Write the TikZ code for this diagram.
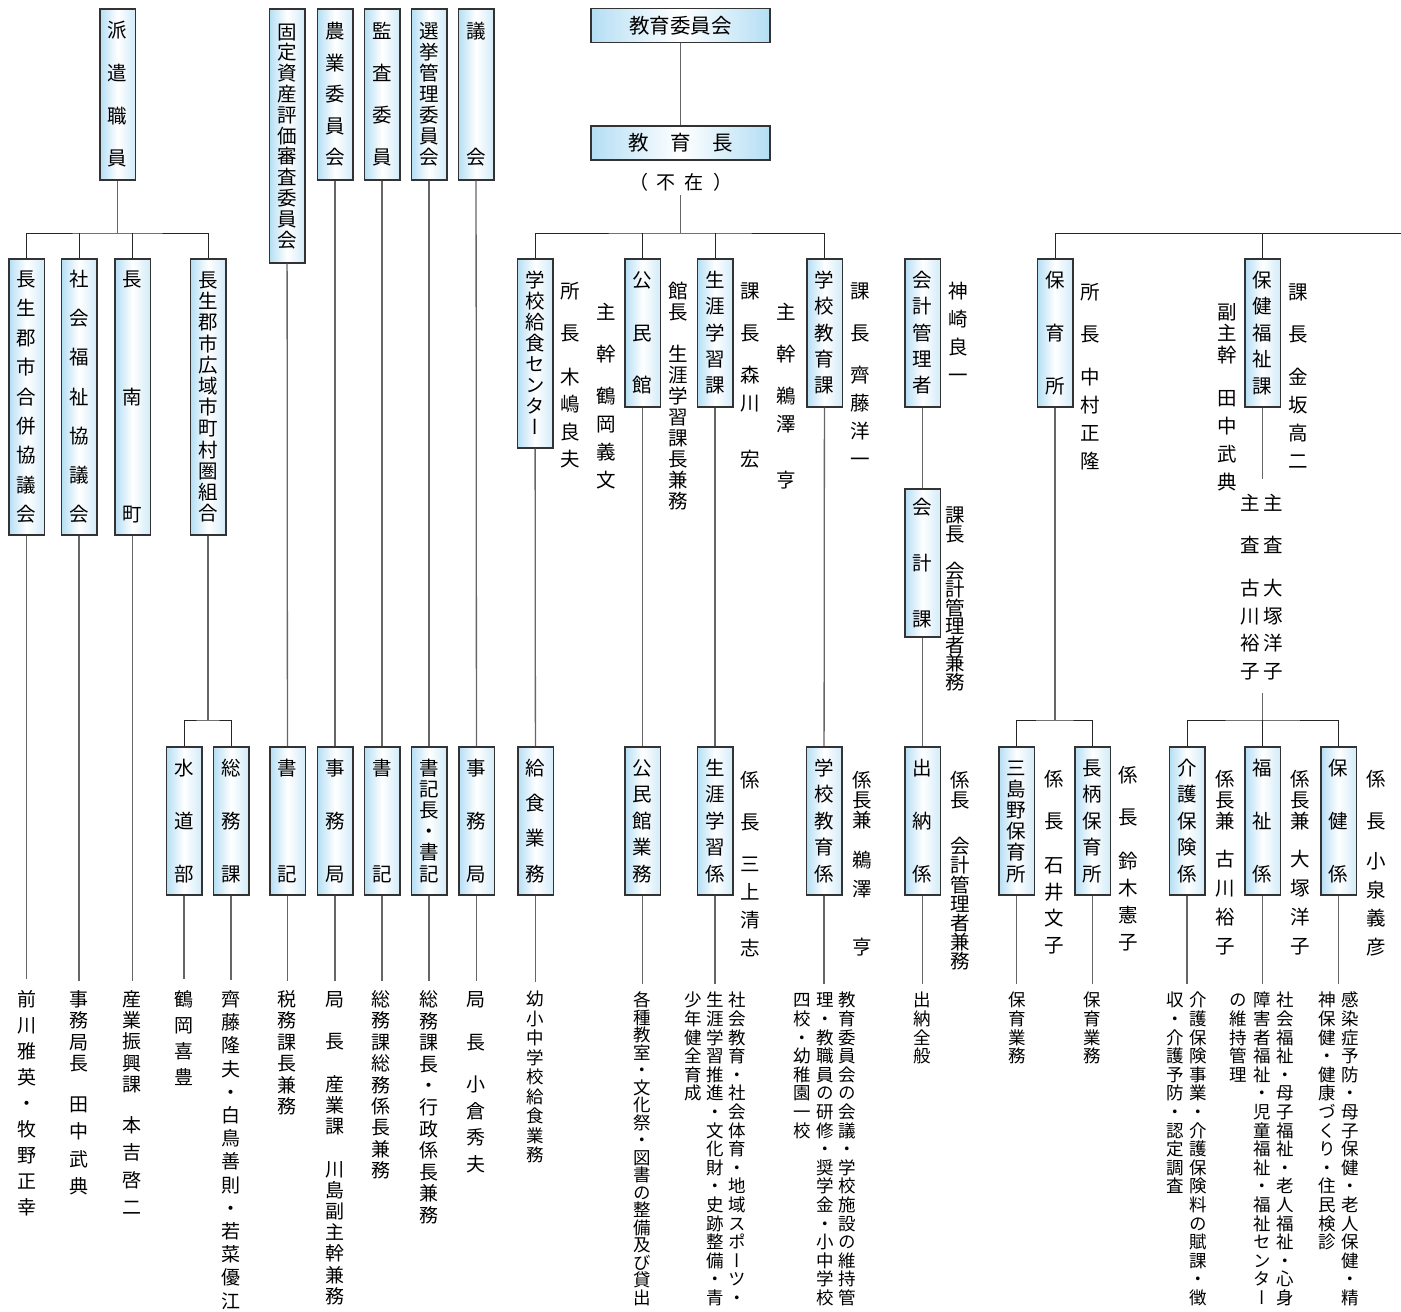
\documentclass[tikz,border=0pt]{standalone}
\usepackage{fontspec}
\newfontfamily\cjk[RawFeature=+vert]{Noto Sans CJK JP}
\newfontfamily\cjkh{Noto Sans CJK JP}
\definecolor{boxblue}{RGB}{180,222,244}
\def\figboxwidth{35.5pt}
\def\figboxfont{\cjk\fontsize{19.5pt}{19.5pt}\selectfont}
\def\figinfofont{\cjk\fontsize{19.5pt}{19.5pt}\selectfont}
\def\figdutyfont{\cjk\fontsize{19pt}{19pt}\selectfont}
\def\figdutysmallfont{\cjk\fontsize{17.5pt}{17.5pt}\selectfont}
% vertical text: one character per slot of the given pitch
\newdimen\vtpitch
\newbox\vtbox
\def\vtend{vtend}
\def\vtafterfi#1#2\fi{\fi#1}
\def\vtloop#1{\ifx#1\vtend\else\vtafterfi{\vtstep#1}\fi}
\def\vtstep#1{\ifcat\noexpand#1\relax\vtafterfi{#1}\else\vtafterfi{\vtchar{#1}\vtloop}\fi}
\def\vtchar#1{\hbox to 1em{\hss\vrule height\dimexpr\vtpitch/2+.38em\relax depth\dimexpr\vtpitch/2-.38em\relax width 0pt\relax#1\hss}}
\def\vtp#1{\vtpitch=#1pt\relax\vtloop}
\def\vtk#1{\kern#1pt\relax\vtloop}
\newcommand\vt[2]{\setbox\vtbox=\vbox{\offinterlineskip\vtpitch=#1pt\relax\vtloop#2\vtend}\lower\dimexpr(\ht\vtbox-\dp\vtbox)/2\relax\box\vtbox}
\newcommand\bt[2]{\smash{\vt{#1}{#2}}}

\begin{document}
\begin{tikzpicture}[
  x=1pt,y=-1pt,
  box/.style={draw=black!80,line width=1.5pt,left color=boxblue,right color=boxblue!60,middle color=white,minimum width=\figboxwidth,inner sep=0pt,anchor=north,font=\figboxfont},
  wbox/.style={draw=black!80,line width=1.5pt,left color=boxblue,right color=boxblue,middle color=white,minimum width=179pt,minimum height=34pt,inner sep=0pt,font=\cjkh\fontsize{20.5pt}{20.5pt}\selectfont},
  info/.style={inner sep=0pt,anchor=north,font=\figinfofont},
  duty/.style={inner sep=0pt,anchor=north,font=\figdutyfont},
  duty2/.style={inner sep=0pt,anchor=north,font=\figdutysmallfont},
  link/.style={draw=black!85,line width=1pt},
  stem/.style={draw=black!60,line width=1.3pt},
]
\useasboundingbox (0,0) rectangle (1401,1312);

%%%%%%%%%%%%%%%
% Left Part
%%%%%%%%%%%%%%%
\node (hak) [box,minimum height=171pt] at (117.5,8) {\bt{42.7}{派遣職員}};
\node (l1) [box,minimum height=276pt] at (26.5,258) {\bt{29.4}{長生郡市合併協議会}};
\node (l2) [box,minimum height=276pt] at (79,258) {\bt{39.2}{社会福祉協議会}};
\node (l3) [box,minimum height=276pt] at (132.5,258) {\bt{39.2}{長　　南　　町}};
\node (l4) [box,minimum height=276pt] at (208,258) {\bt{21.2}{長生郡市広域市町村圏組合}};
\node (b1) [box,minimum height=148pt] at (184,746) {\bt{53}{水道部}};
\node (b2) [box,minimum height=148pt] at (231,746) {\bt{53}{総務課}};

% Left Bottom
\node (d1) [duty] at (26.5,986) {\vt{26}{前川雅英・牧野正幸}};
\node (d2) [duty] at (79,988.4) {\vt{21.3}{事務局長\vtk{16.8}\vtp{27.3}田中武典}};
\node (d3) [duty] at (132,988.4) {\vt{21.25}{産業振興課\vtk{16.75}\vtp{27.3}本吉啓二}};
\node (d4) [duty] at (184,986) {\vt{26}{鶴岡喜豊}};
\node (d5) [duty] at (231,987.4) {\vt{23.2}{齊藤隆夫・白鳥善則・若菜優江}};

%%%%%%%%%%%%%%%
% Committees
%%%%%%%%%%%%%%%
\node (k1) [box,minimum height=254pt] at (287,8) {\bt{20.8}{固定資産評価審査委員会}};
\node (k2) [box,minimum height=171pt] at (335,8) {\bt{31.5}{農業委員会}};
\node (k3) [box,minimum height=171pt] at (382,8) {\bt{42}{監査委員}};
\node (k4) [box,minimum height=171pt] at (429,8) {\bt{21}{選挙管理委員会}};
\node (k5) [box,minimum height=171pt] at (476,8) {\bt{42}{議　　会}};
\node (b3) [box,minimum height=148pt] at (287.5,746) {\bt{53}{書　記}};
\node (b4) [box,minimum height=148pt] at (335,746) {\bt{53}{事務局}};
\node (b5) [box,minimum height=148pt] at (382,746) {\bt{53}{書　記}};
\node (b6) [box,minimum height=148pt] at (429,746) {\bt{21.2}{書記長・書記}};
\node (b7) [box,minimum height=148pt] at (476.5,746) {\bt{53}{事務局}};
\node (d6) [duty] at (287,988.3) {\vt{21.4}{税務課長兼務}};
\node (d7) [duty] at (335,988.4) {\vt{21.2}{局　長　産業課　川島副主幹兼務}};
\node (d8) [duty] at (381,988.3) {\vt{21.4}{総務課総務係長兼務}};
\node (d9) [duty] at (429,988.2) {\vt{21.6}{総務課長・行政係長兼務}};
\node (d10) [duty] at (476,988.4) {\vt{21.3}{局　長\vtk{18.4}\vtp{26.7}小倉秀夫}};

%%%%%%%%%%%%%%%
% Board of Education
%%%%%%%%%%%%%%%
\node (e0) [wbox] at (680.5,25.5) {教育委員会};
\node (e1) [wbox] at (680.5,143) {教\hspace{21.5pt}育\hspace{21.5pt}長};
\node (e1n) [inner sep=0pt,font=\cjkh\fontsize{19pt}{19pt}\selectfont] at (680.5,182) {（\hspace{9pt}不\hspace{9pt}在\hspace{9pt}）};

\node (s1) [box,minimum height=189pt] at (535,258) {\bt{21}{学校給食センター}};
\node (s2) [box,minimum height=148pt] at (642.5,258) {\bt{52.5}{公民館}};
\node (s3) [box,minimum height=148pt] at (715,258) {\bt{26.2}{生涯学習課}};
\node (s4) [box,minimum height=148pt] at (824.5,258) {\bt{26.2}{学校教育課}};
\node (i1) [info] at (570,270) {\vt{42}{所長\vtk{9.4}\vtp{27.3}木嶋良夫}};
\node (i2) [info] at (606,291) {\vt{42}{主幹\vtk{7}\vtp{28}鶴岡義文}};
\node (i3) [info] at (678,280.5) {\vt{21}{館長　生涯学習課長兼務}};
\node (i4) [info] at (750,270) {\vt{42}{課長\vtk{7}\vtp{28}森川　宏}};
\node (i5) [info] at (786,291) {\vt{42}{主幹\vtk{7}\vtp{28}鵜澤　亨}};
\node (i6) [info] at (860,270) {\vt{42}{課長\vtk{7}\vtp{28}齊藤洋一}};

\node (b8) [box,minimum height=148pt] at (535.5,746) {\bt{35.3}{給食業務}};
\node (b9) [box,minimum height=148pt] at (642.5,746) {\bt{26.5}{公民館業務}};
\node (b10) [box,minimum height=148pt] at (715,746) {\bt{26.5}{生涯学習係}};
\node (b11) [box,minimum height=148pt] at (824,746) {\bt{26.5}{学校教育係}};
\node (i14) [info] at (750,759) {\vt{42}{係長\vtk{7}\vtp{28}三上清志}};
\node (i15) [info] at (862,770) {\vt{20}{係長兼\vtk{15.5}\vtp{29}鵜澤　亨}};

\node (d11) [duty2] at (535,989) {\vt{19.5}{幼小中学校給食業務}};
\node (d12) [duty2] at (642,991) {\vt{17.5}{各種教室・文化祭・図書の整備及び貸出}};
\node (d13a) [duty2] at (737,990.7) {\vt{18.6}{社会教育・社会体育・地域スポーツ・}};
\node (d13b) [duty2] at (715,990.7) {\vt{18.6}{生涯学習推進・文化財・史跡整備・青}};
\node (d13c) [duty2] at (693,990.7) {\vt{18.6}{少年健全育成}};
\node (d14a) [duty2] at (847,990.7) {\vt{18.6}{教育委員会の会議・学校施設の維持管}};
\node (d14b) [duty2] at (825,990.7) {\vt{18.6}{理・教職員の研修・奨学金・小中学校}};
\node (d14c) [duty2] at (802,990.7) {\vt{18.6}{四校・幼稚園一校}};

%%%%%%%%%%%%%%%
% Accounting
%%%%%%%%%%%%%%%
\node (a1) [box,minimum height=148pt] at (922.5,258) {\bt{26.2}{会計管理者}};
\node (a2) [box,minimum height=148pt] at (922.5,488) {\bt{56}{会計課}};
\node (b12) [box,minimum height=148pt] at (922.5,746) {\bt{53}{出納係}};
\node (i7) [info] at (958,277) {\vt{28}{神崎良一}};
\node (i8) [info] at (955,505.75) {\vt{18.5}{課長　会計管理者兼務}};
\node (i16) [info] at (960,770) {\vt{20}{係長\vtk{26.4}\vtp{19.2}会計管理者兼務}};
\node (d15) [duty2] at (922,990.7) {\vt{18.6}{出納全般}};

%%%%%%%%%%%%%%%
% Right Part
%%%%%%%%%%%%%%%
\node (h1) [box,minimum height=148pt] at (1055,258) {\bt{53}{保育所}};
\node (w1) [box,minimum height=148pt] at (1262.5,258) {\bt{26.5}{保健福祉課}};
\node (i9) [info] at (1090,271) {\vt{42}{所長\vtk{8}\vtp{28}中村正隆}};
\node (i10) [info] at (1298,271) {\vt{42}{課長\vtk{8}\vtp{28}金坂高二}};
\node (i11) [info] at (1227,301) {\vt{21.5}{副主幹\vtk{18.5}\vtp{28}田中武典}};
\node (i12) [info] at (1273,482) {\vt{42}{主査\vtk{8.25}\vtp{27.5}大塚洋子}};
\node (i13) [info] at (1250,482) {\vt{42}{主査\vtk{8.25}\vtp{27.5}古川裕子}};

\node (b13) [box,minimum height=148pt] at (1016.5,746) {\bt{21.2}{三島野保育所}};
\node (b14) [box,minimum height=148pt] at (1092.5,746) {\bt{26.5}{長柄保育所}};
\node (b15) [box,minimum height=148pt] at (1187,746) {\bt{26.5}{介護保険係}};
\node (b16) [box,minimum height=148pt] at (1262.5,746) {\bt{53}{福祉係}};
\node (b17) [box,minimum height=148pt] at (1338.5,746) {\bt{53}{保健係}};
\node (i17) [info] at (1054,758) {\vt{42}{係長\vtk{9.75}\vtp{26.5}石井文子}};
\node (i18) [info] at (1128,754) {\vt{42}{係長\vtk{9.5}\vtp{27}鈴木憲子}};
\node (i19) [info] at (1225,768.5) {\vt{21}{係長兼\vtk{13}\vtp{29}古川裕子}};
\node (i20) [info] at (1300,768.5) {\vt{21}{係長兼\vtk{13}\vtp{29}大塚洋子}};
\node (i21) [info] at (1376,758) {\vt{42}{係長\vtk{4.75}\vtp{28.5}小泉義彦}};

\node (d16) [duty2] at (1017,990.7) {\vt{18.6}{保育業務}};
\node (d17) [duty2] at (1092,990.7) {\vt{18.6}{保育業務}};
\node (d18a) [duty2] at (1198,990.7) {\vt{18.6}{介護保険事業・介護保険料の賦課・徴}};
\node (d18b) [duty2] at (1175,990.7) {\vt{18.6}{収・介護予防・認定調査}};
\node (d19a) [duty2] at (1285,990.7) {\vt{18.6}{社会福祉・母子福祉・老人福祉・心身}};
\node (d19b) [duty2] at (1262,990.7) {\vt{18.6}{障害者福祉・児童福祉・福祉センター}};
\node (d19c) [duty2] at (1238,990.7) {\vt{18.6}{の維持管理}};
\node (d20a) [duty2] at (1350,990.7) {\vt{18.6}{感染症予防・母子保健・老人保健・精}};
\node (d20b) [duty2] at (1327,990.7) {\vt{18.6}{神保健・健康づくり・住民検診}};

%%%%%%%%%%%%%%%
% Connectors
%%%%%%%%%%%%%%%
\coordinate (hakj) at (117.5,233);
\coordinate (l4j) at (208,720);
\coordinate (ej) at (680.5,233);
\coordinate (rj) at (1401,233);
\coordinate (hj) at (1055,720);
\coordinate (wj) at (1262.5,720);

\draw [stem] (hak) -- (hakj);
\draw [link] (l1.north) |- (hakj) -| (l4.north);
\draw [link] (l2.north) -- (l2.north |- hakj);
\draw [link] (l3.north) -- (l3.north |- hakj);
\draw [stem] (l4) -- (l4j);
\draw [link] (b1.north) |- (l4j) -| (b2.north);

\draw [stem] (k1) -- (b3);
\draw [stem] (k2) -- (b4);
\draw [stem] (k3) -- (b5);
\draw [stem] (k4) -- (b6);
\draw [stem] (k5) -- (b7);

\draw [stem] (e0) -- (e1);
\draw [stem,shorten <=4pt] (e1n) -- (ej);
\draw [link] (s1.north) |- (ej) -| (s4.north);
\draw [link] (s2.north) -- (s2.north |- ej);
\draw [link] (s3.north) -- (s3.north |- ej);
\draw [stem] (s1) -- (b8);
\draw [stem] (s2) -- (b9);
\draw [stem] (s3) -- (b10);
\draw [stem] (s4) -- (b11);
\draw [stem] (a1) -- (a2);
\draw [stem] (a2) -- (b12);

\draw [link] (h1.north) |- (rj);
\draw [link] (w1.north) -- (w1.north |- rj);
\draw [stem] (h1) -- (hj);
\draw [link] (b13.north) |- (hj) -| (b14.north);
\draw [stem,shorten >=3pt] (w1.south) -- (w1.south |- i12.north);
\draw [stem,shorten <=8pt] (w1.south |- i12.south) -- (wj);
\draw [link] (b15.north) |- (wj) -| (b17.north);
\draw [link] (b16.north) -- (wj);

% Stems to duties
\foreach \b/\d in {l1/d1,l2/d2,l3/d3,b1/d4,b2/d5,b3/d6,b4/d7,b5/d8,b6/d9,b7/d10,b8/d11,b9/d12,b10/d13b,b11/d14b,b12/d15,b13/d16,b14/d17,b15/d18a,b16/d19b,b17/d20a}
  \draw [stem,shorten >=7pt] (\b.south) -- (\b.south |- \d.north);

\end{tikzpicture}
\end{document}
